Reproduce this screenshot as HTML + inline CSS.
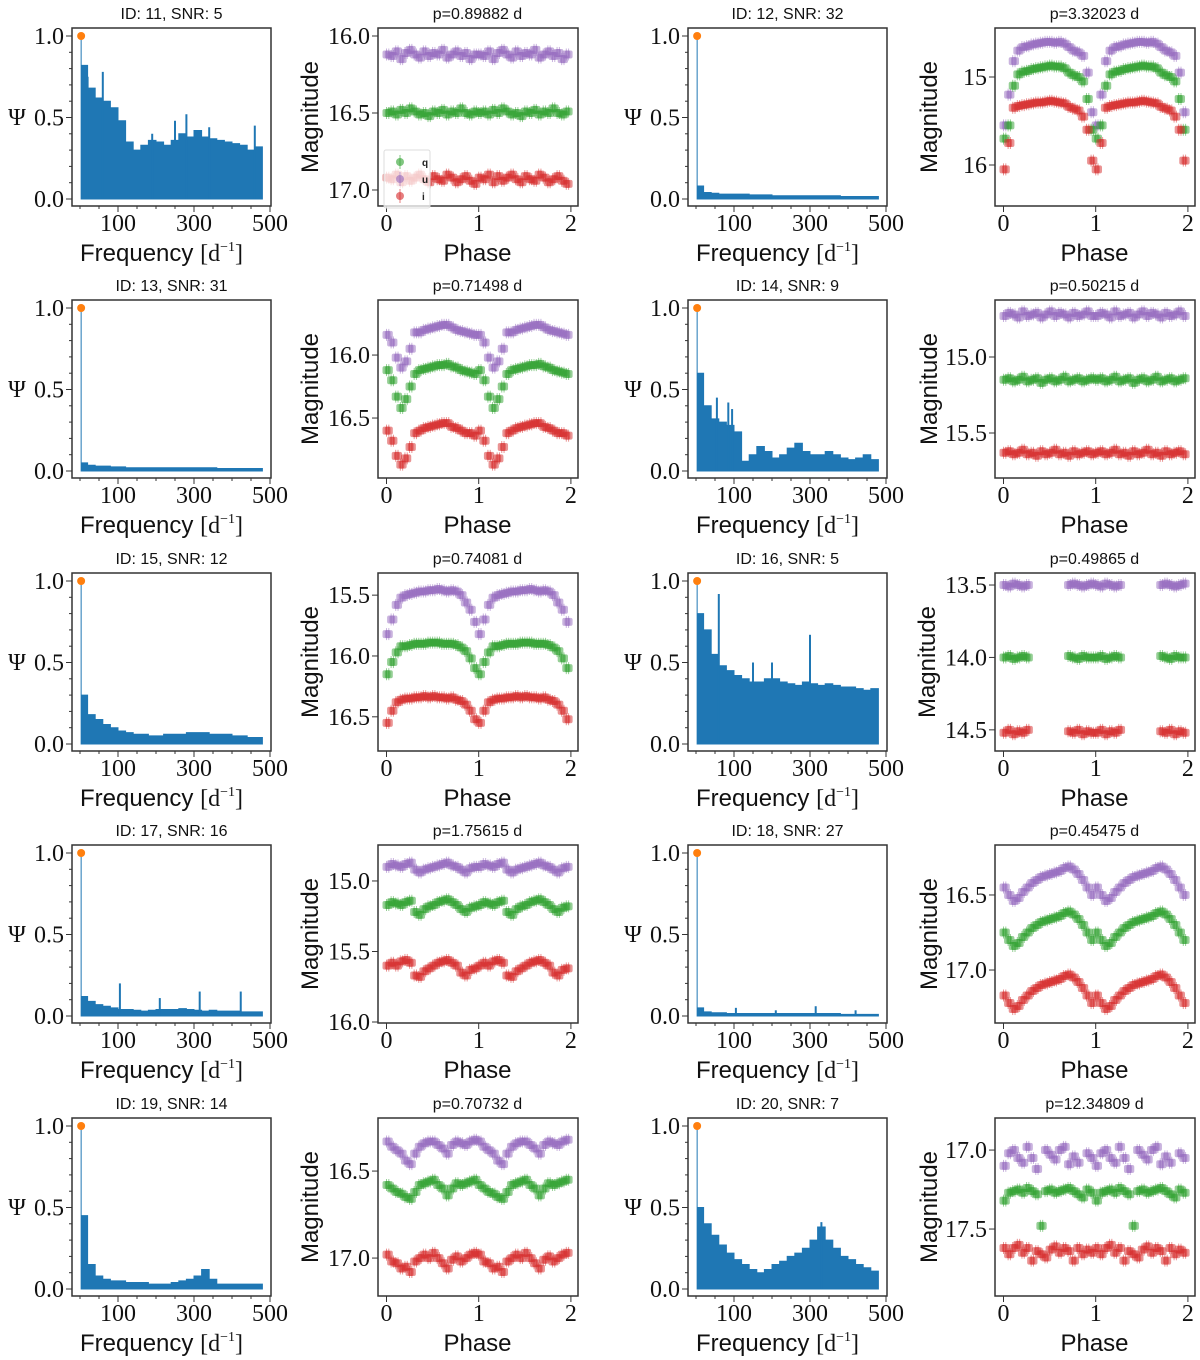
<!DOCTYPE html>
<html><head><meta charset="utf-8"><style>
html,body{margin:0;padding:0;background:#fff;}
svg{display:block;}
.tk{font-family:"Liberation Serif",serif;font-size:24px;fill:#111;}
.lab{font-family:"Liberation Sans",sans-serif;font-size:24px;fill:#111;}
.ttl{font-family:"Liberation Sans",sans-serif;font-size:16px;fill:#111;}
</style></head><body>
<svg id="fig" width="1200" height="1360" viewBox="0 0 1200 1360" xmlns="http://www.w3.org/2000/svg"></svg>
<script>
// ---------- periodogram data (Psi per 20 d^-1 bin, 0..480) ----------
const pgFreqs = [0,20,40,60,80,100,120,140,160,180,200,220,240,260,280,300,320,340,360,380,400,420,440,460,480];
const pg11 = [0.82,0.68,0.62,0.6,0.56,0.48,0.35,0.3,0.33,0.36,0.35,0.33,0.36,0.4,0.38,0.42,0.38,0.37,0.36,0.35,0.34,0.33,0.3,0.32,0.28];
const spk11 = [[20,0.75],[60,0.78],[190,0.4],[250,0.48],[280,0.52],[340,0.44],[460,0.45]];
const pg12 = [0.08,0.04,0.035,0.03,0.03,0.03,0.03,0.025,0.025,0.025,0.02,0.02,0.02,0.02,0.02,0.02,0.02,0.02,0.02,0.015,0.015,0.015,0.015,0.015,0.015];
const spk12 = [];
const pg13 = [0.05,0.035,0.03,0.03,0.025,0.025,0.02,0.02,0.02,0.02,0.02,0.02,0.02,0.02,0.02,0.02,0.02,0.02,0.015,0.015,0.015,0.015,0.015,0.015,0.015];
const spk13 = [];
const pg14 = [0.6,0.4,0.32,0.3,0.28,0.24,0.06,0.1,0.15,0.12,0.08,0.1,0.14,0.17,0.12,0.1,0.1,0.12,0.1,0.08,0.07,0.08,0.1,0.07,0.04];
const spk14 = [[55,0.45],[85,0.42],[95,0.38]];
const pg15 = [0.3,0.18,0.15,0.12,0.1,0.08,0.07,0.06,0.06,0.05,0.05,0.06,0.06,0.06,0.07,0.07,0.07,0.06,0.06,0.06,0.05,0.05,0.04,0.04,0.03];
const spk15 = [];
const pg16 = [0.8,0.7,0.55,0.48,0.45,0.42,0.4,0.38,0.38,0.4,0.4,0.38,0.37,0.36,0.38,0.37,0.36,0.37,0.36,0.35,0.35,0.34,0.33,0.34,0.3];
const spk16 = [[60,0.92],[150,0.5],[200,0.5],[300,0.67]];
const pg17 = [0.12,0.09,0.07,0.06,0.05,0.04,0.04,0.035,0.03,0.035,0.04,0.04,0.04,0.045,0.04,0.035,0.03,0.035,0.03,0.03,0.03,0.025,0.025,0.025,0.02];
const spk17 = [[105,0.2],[210,0.11],[315,0.15],[423,0.15]];
const pg18 = [0.05,0.025,0.02,0.02,0.015,0.015,0.015,0.015,0.015,0.015,0.015,0.015,0.015,0.015,0.015,0.015,0.015,0.015,0.015,0.01,0.01,0.01,0.01,0.01,0.01];
const spk18 = [[105,0.05],[210,0.035],[315,0.06],[420,0.035]];
const pg19 = [0.45,0.15,0.08,0.06,0.05,0.05,0.04,0.04,0.04,0.03,0.03,0.03,0.04,0.05,0.06,0.08,0.12,0.06,0.03,0.03,0.03,0.03,0.03,0.03,0.03];
const spk19 = [];
const pg20 = [0.5,0.4,0.33,0.27,0.22,0.18,0.15,0.12,0.1,0.12,0.15,0.17,0.2,0.22,0.25,0.3,0.38,0.3,0.25,0.2,0.18,0.15,0.13,0.11,0.09];
const spk20 = [[330,0.41]];
const pgIds = [11,12,13,14,15,16,17,18,19,20];
const pgSnr = [5,32,31,9,12,5,16,27,14,7];
const pgTicks = [100,300,500];
const psiTicks = [0.0,0.5,1.0];

// ---------- light curves (magnitude at phase bins 0,0.05,...,0.95) ----------
const phaseBins = [0,0.05,0.1,0.15,0.2,0.25,0.3,0.35,0.4,0.45,0.5,0.55,0.6,0.65,0.7,0.75,0.8,0.85,0.9,0.95];
const periods = ["0.89882","3.32023","0.71498","0.50215","0.74081","0.49865","1.75615","0.45475","0.70732","12.34809"];
const u1=[16.12,16.13,16.10,16.15,16.11,16.09,16.12,16.14,16.10,16.13,16.11,16.12,16.09,16.14,16.12,16.10,16.13,16.11,16.15,16.12];
const g1=[16.50,16.49,16.51,16.48,16.50,16.47,16.49,16.51,16.50,16.52,16.49,16.50,16.48,16.51,16.49,16.50,16.47,16.50,16.51,16.49];
const i1=[16.92,16.93,16.90,16.95,16.91,16.94,16.92,16.90,16.93,16.95,16.91,16.93,16.94,16.90,16.92,16.95,16.93,16.91,16.94,16.96];
const u2=[15.55,15.2,14.82,14.70,14.66,14.65,14.63,14.62,14.61,14.60,14.60,14.61,14.60,14.62,14.66,14.70,14.72,14.76,14.95,15.4];
const g2=[15.7,15.55,15.1,14.97,14.94,14.93,14.91,14.90,14.89,14.88,14.87,14.88,14.88,14.90,14.95,14.98,15.0,15.05,15.25,15.6];
const i2=[16.05,15.75,15.35,15.33,15.32,15.31,15.30,15.29,15.29,15.28,15.27,15.28,15.29,15.30,15.34,15.36,15.38,15.45,15.6,15.95];
const u3=[15.84,15.9,16.02,16.1,16.05,15.95,15.82,15.82,15.80,15.79,15.78,15.77,15.76,15.76,15.78,15.80,15.81,15.82,15.83,15.84];
const g3=[16.12,16.2,16.33,16.42,16.35,16.25,16.15,16.12,16.11,16.10,16.09,16.08,16.08,16.07,16.09,16.10,16.12,16.13,16.14,16.15];
const i3=[16.6,16.68,16.80,16.87,16.82,16.73,16.62,16.60,16.58,16.57,16.56,16.55,16.54,16.54,16.57,16.58,16.60,16.62,16.62,16.64];
const u4=[14.73,14.71,14.72,14.74,14.70,14.73,14.72,14.71,14.74,14.72,14.70,14.73,14.71,14.72,14.74,14.71,14.73,14.72,14.70,14.73];
const g4=[15.15,15.14,15.16,15.15,15.13,15.16,15.15,15.14,15.17,15.15,15.14,15.16,15.15,15.13,15.16,15.15,15.14,15.16,15.15,15.14];
const i4=[15.63,15.62,15.64,15.63,15.61,15.64,15.63,15.65,15.62,15.64,15.63,15.61,15.64,15.63,15.65,15.62,15.64,15.63,15.62,15.64];
const u5=[15.82,15.70,15.58,15.52,15.50,15.49,15.48,15.47,15.47,15.46,15.46,15.45,15.46,15.47,15.46,15.47,15.50,15.56,15.62,15.72];
const g5=[16.15,16.05,15.97,15.92,15.92,15.91,15.90,15.90,15.90,15.89,15.89,15.89,15.90,15.90,15.90,15.91,15.93,15.96,16.02,16.10];
const i5=[16.55,16.45,16.38,16.36,16.35,16.35,16.34,16.34,16.33,16.34,16.33,16.34,16.34,16.35,16.34,16.36,16.37,16.40,16.45,16.52];
const u6=[13.50,13.51,13.49,13.50,13.51,13.50,null,null,null,null,null,null,null,null,13.50,13.49,13.50,13.51,13.50,13.49];
const g6=[14.00,13.99,14.01,14.00,13.99,14.00,null,null,null,null,null,null,null,null,13.99,14.00,14.01,13.99,14.00,14.00];
const i6=[14.52,14.50,14.53,14.51,14.52,14.50,null,null,null,null,null,null,null,null,14.51,14.52,14.50,14.53,14.51,14.52];
const u7=[14.90,14.88,14.89,14.90,14.88,14.87,14.92,14.94,14.92,14.91,14.90,14.89,14.88,14.87,14.89,14.90,14.92,14.94,14.91,14.90];
const g7=[15.17,15.15,15.16,15.17,15.15,15.14,15.22,15.24,15.20,15.18,15.17,15.15,15.14,15.13,15.15,15.17,15.20,15.22,15.19,15.18];
const i7=[15.60,15.58,15.60,15.57,15.56,15.58,15.67,15.68,15.64,15.62,15.60,15.58,15.57,15.56,15.58,15.60,15.65,15.67,15.63,15.62];
const u8=[16.45,16.50,16.54,16.52,16.48,16.45,16.42,16.40,16.38,16.37,16.36,16.35,16.34,16.32,16.31,16.33,16.36,16.40,16.45,16.50];
const g8=[16.75,16.80,16.84,16.82,16.78,16.75,16.72,16.70,16.68,16.67,16.66,16.65,16.64,16.62,16.61,16.63,16.66,16.70,16.75,16.80];
const i8=[17.17,17.22,17.26,17.24,17.20,17.17,17.14,17.12,17.10,17.09,17.08,17.07,17.06,17.04,17.03,17.05,17.08,17.12,17.17,17.22];
const u9=[16.33,16.36,16.38,16.40,16.44,16.46,16.40,16.36,16.34,16.33,16.33,16.35,16.37,16.40,16.35,16.33,16.34,16.35,16.33,16.32];
const g9=[16.58,16.60,16.62,16.63,16.65,16.66,16.62,16.58,16.57,16.56,16.55,16.58,16.60,16.64,16.60,16.57,16.58,16.57,16.56,16.55];
const i9=[16.98,17.02,17.03,17.06,17.05,17.08,17.02,17.00,16.98,17.00,16.97,17.00,17.03,17.06,17.01,16.99,17.02,17.00,16.98,16.97];
const u10=[17.10,17.02,17.00,17.05,17.08,16.98,17.05,17.12,null,17.00,17.03,17.06,17.00,16.98,17.09,17.04,17.08,null,17.02,17.05];
const g10=[17.32,17.27,17.26,17.25,17.27,17.24,17.26,17.28,17.48,17.26,17.25,17.27,17.26,17.25,17.24,17.26,17.28,17.30,17.25,17.27];
const i10=[17.62,17.66,17.62,17.60,17.65,17.62,17.70,17.64,17.66,17.68,17.63,17.61,17.65,17.62,17.64,17.70,17.62,17.66,17.63,17.65];
const magTicks1=[16.0,16.5,17.0], magTicks2=[15,16], magTicks3=[16.0,16.5], magTicks4=[15.0,15.5], magTicks5=[15.5,16.0,16.5];
const magTicks6=[13.5,14.0,14.5], magTicks7=[15.0,15.5,16.0], magTicks8=[16.5,17.0], magTicks9=[16.5,17.0], magTicks10=[17.0,17.5];
const magLims = [[15.948,17.104],[14.443,16.466],[15.563,16.976],[14.625,15.796],[15.318,16.781],[13.417,14.646],[14.745,16.007],[16.167,17.353],[16.195,17.218],[16.797,17.924]];
const phaseTicks=[0,1,2];

const pgs=[pg11,pg12,pg13,pg14,pg15,pg16,pg17,pg18,pg19,pg20];
const spks=[spk11,spk12,spk13,spk14,spk15,spk16,spk17,spk18,spk19,spk20];
const us=[u1,u2,u3,u4,u5,u6,u7,u8,u9,u10], gs=[g1,g2,g3,g4,g5,g6,g7,g8,g9,g10], is=[i1,i2,i3,i4,i5,i6,i7,i8,i9,i10];
const mts=[magTicks1,magTicks2,magTicks3,magTicks4,magTicks5,magTicks6,magTicks7,magTicks8,magTicks9,magTicks10];

// ---------- layout ----------
const NS="http://www.w3.org/2000/svg";
const svg=document.getElementById('fig');
const colL=[72,378,688,995], W=199, H=178;
const rowT=[28,300,573,845,1118];
function el(tag,attrs,parent){const e=document.createElementNS(NS,tag);for(const k in attrs)e.setAttribute(k,attrs[k]);(parent||svg).appendChild(e);return e;}
function txt(s,attrs,parent){const t=el('text',attrs,parent);t.textContent=s;return t;}
const BLUE='#1f77b4', COLS={u:'#9467bd',g:'#2ca02c',i:'#d62728'};

for(let k=0;k<10;k++){
  const r=Math.floor(k/2), side=k%2;
  const top=rowT[r];
  // ---- periodogram ----
  {
    const L=colL[side*2];
    const g=el('g',{});
    
    
    const fx=f=>L+8+f*0.38, fy=v=>top+8+(1-v)*163;
    const pg=pgs[k];
    let d='M'+fx(3)+','+fy(0)+' L'+fx(3)+','+fy(1.0);
    for(let j=0;j<pgFreqs.length;j++){
      const f0=Math.max(pgFreqs[j],3), f1=Math.min(pgFreqs[j]+20,480);
      d+=' L'+fx(f0)+','+fy(pg[j])+' L'+fx(f1)+','+fy(pg[j]);
    }
    d+=' L'+fx(480)+','+fy(0)+' Z';
    const area=el('path',{d:d,fill:BLUE,stroke:BLUE,'stroke-width':1},g);
    
    
    spks[k].forEach(s=>{
      const ln=el('line',{x1:fx(s[0]),x2:fx(s[0]),y1:fy(0),y2:fy(s[1]),stroke:BLUE,'stroke-width':2},g);
      
      
    });
    const dot=el('circle',{cx:fx(3),cy:fy(1.0),r:4,fill:'#ff7f0e'},g);
    
    
    el('rect',{x:L,y:top,width:W,height:H,fill:'none',stroke:'#333','stroke-width':1.5},g);
    for(let f=0;f<=500;f+=50){const maj=pgTicks.includes(f);el('line',{x1:fx(f),x2:fx(f),y1:top+H,y2:top+H+(maj?6:3),stroke:'#333'},g);}
    pgTicks.forEach(f=>{const t=txt(String(f),{x:fx(f),y:top+H+25,'text-anchor':'middle',class:'tk'},g);});
    for(let v=0;v<=10;v++){const maj=v%5==0;el('line',{x1:L,x2:L-(maj?6:3),y1:fy(v/10),y2:fy(v/10),stroke:'#333'},g);}
    psiTicks.forEach(v=>{const t=txt(v.toFixed(1),{x:L-8,y:fy(v)+8,'text-anchor':'end',class:'tk'},g);});
    const tt=txt('ID: '+pgIds[k]+', SNR: '+pgSnr[k],{x:L+W/2,y:top-9,'text-anchor':'middle',class:'ttl'},g);
    
    const xl=txt('',{x:L+W/2-10,y:top+H+55,'text-anchor':'middle',class:'lab'},g);
    xl.innerHTML='Frequency <tspan font-family="Liberation Serif">[d</tspan><tspan font-family="Liberation Serif" font-size="14" dy="-10">−1</tspan><tspan font-family="Liberation Serif" dy="10">]</tspan>';
    
    const yl=txt('Ψ',{x:L-55,y:top+97,'text-anchor':'middle',class:'tk','font-size':'24'},g);
    
  }
  // ---- phase plot ----
  {
    const L=colL[side*2+1];
    const g=el('g',{});
    
    
    const lim=magLims[k];
    const px=p=>L+8.5+p*92.2, my=m=>top+(m-lim[0])/(lim[1]-lim[0])*H;
    const bands=[['u',us[k]],['g',gs[k]],['i',is[k]]];
    bands.forEach(([b,arr])=>{
      const bg=el('g',{fill:COLS[b],'fill-opacity':0.5},g);
      
      
      for(let rep=0;rep<2;rep++)for(let j=0;j<phaseBins.length;j++){
        const m=arr[j]; if(m===null)continue;
        [0,0.025].forEach(off=>{
          const x=px(phaseBins[j]+off+rep), y=my(m);
          el('rect',{x:x-4,y:y-4,width:8,height:8,rx:2},bg);
          el('line',{x1:x,x2:x,y1:y-6,y2:y+6,stroke:COLS[b],'stroke-opacity':0.5,'stroke-width':1},bg);
        });
      }
    });
    el('rect',{x:L,y:top,width:W+1,height:H,fill:'none',stroke:'#333','stroke-width':1.5},g);
    phaseTicks.forEach(p=>{el('line',{x1:px(p),x2:px(p),y1:top+H,y2:top+H+6,stroke:'#333'},g);
      const t=txt(String(p),{x:px(p),y:top+H+25,'text-anchor':'middle',class:'tk'},g);});
    mts[k].forEach(m=>{el('line',{x1:L,x2:L-6,y1:my(m),y2:my(m),stroke:'#333'},g);
      const s=Number.isInteger(m)&&k==1?String(m):m.toFixed(1);
      const t=txt(s,{x:L-8,y:my(m)+8,'text-anchor':'end',class:'tk'},g);});
    const tt=txt('p='+periods[k]+' d',{x:L+W/2,y:top-9,'text-anchor':'middle',class:'ttl'},g);
    
    const xl=txt('Phase',{x:L+W/2,y:top+H+55,'text-anchor':'middle',class:'lab'},g);
    
    const yx=L-(k==1||k==3||k==7||k==9?58:60);
    const yl=txt('Magnitude',{x:yx,y:top+H/2,'text-anchor':'middle',class:'lab',transform:'rotate(-90 '+yx+' '+(top+H/2)+')'},g);
    
    if(k==0){
      const lg=el('g',{},g);
      
      
      el('rect',{x:L+6,y:top+122,width:46,height:58,fill:'#fff','fill-opacity':0.75,stroke:'#ddd',rx:2},lg);
      [['g','q'],['u','u'],['i','i']].forEach(([b,n],j)=>{
        const e=el('g',{},lg);
        
        
        const y=top+134+j*17;
        el('circle',{cx:L+22,cy:y,r:4,fill:COLS[b],'fill-opacity':0.6},e);
        el('line',{x1:L+22,x2:L+22,y1:y-7,y2:y+7,stroke:COLS[b],'stroke-opacity':0.6},e);
        txt(n,{x:L+44,y:y+4,'font-size':'10','font-family':'Liberation Sans, sans-serif','font-weight':'bold',fill:'#222'},e);
      });
    }
  }
}
</script>
</body></html>
